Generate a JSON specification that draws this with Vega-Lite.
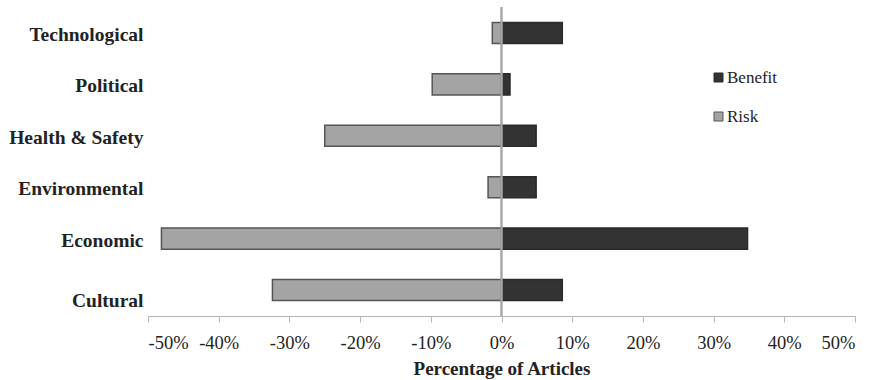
{
  "$schema": "https://vega.github.io/schema/vega-lite/v6.json",
  "width": 707,
  "height": 309,
  "autosize": {"type": "none"},
  "padding": {"left": 148, "top": 7, "right": 19, "bottom": 64},
  "background": "white",
  "data": {
    "values": [
      {"category": "Technological", "type": "Risk", "value": -0.013},
      {"category": "Technological", "type": "Benefit", "value": 0.086},
      {"category": "Political", "type": "Risk", "value": -0.098},
      {"category": "Political", "type": "Benefit", "value": 0.012},
      {"category": "Health & Safety", "type": "Risk", "value": -0.25},
      {"category": "Health & Safety", "type": "Benefit", "value": 0.049},
      {"category": "Environmental", "type": "Risk", "value": -0.019},
      {"category": "Environmental", "type": "Benefit", "value": 0.049},
      {"category": "Economic", "type": "Risk", "value": -0.481},
      {"category": "Economic", "type": "Benefit", "value": 0.348},
      {"category": "Cultural", "type": "Risk", "value": -0.324},
      {"category": "Cultural", "type": "Benefit", "value": 0.086}
    ]
  },
  "layer": [
    {
      "mark": {"type": "bar", "strokeWidth": 1.5},
      "encoding": {
        "y": {
          "field": "category",
          "type": "nominal",
          "sort": ["Technological", "Political", "Health & Safety", "Environmental", "Economic", "Cultural"],
          "scale": {"paddingInner": 0.59, "paddingOuter": 0.3},
          "axis": {
            "title": null,
            "domain": false,
            "ticks": false,
            "labelFont": "Liberation Serif",
            "labelFontSize": 19.5,
            "labelFontWeight": "bold",
            "labelColor": "#222222",
            "labelPadding": 5,
            "labelOffset": {"condition": {"test": "datum.value == 'Cultural'", "value": 11}, "value": 2}
          }
        },
        "x": {
          "field": "value",
          "type": "quantitative",
          "stack": null,
          "scale": {"domain": [-0.5, 0.5], "nice": false},
          "axis": {
            "title": "Percentage of Articles",
            "labelExpr": "round(datum.value * 100) + '%'",
            "values": [-0.5, -0.4, -0.3, -0.2, -0.1, 0, 0.1, 0.2, 0.3, 0.4, 0.5],
            "grid": false,
            "domainColor": "#b5b5b5",
            "tickColor": "#b5b5b5",
            "tickSize": 6,
            "labelFont": "Liberation Serif",
            "labelFontSize": 18.5,
            "labelColor": "#222222",
            "labelPadding": 11,
            "titleFont": "Liberation Serif",
            "titleFontSize": 19,
            "titleFontWeight": "bold",
            "titleColor": "#222222",
            "titlePadding": 8
          }
        },
        "color": {
          "field": "type",
          "type": "nominal",
          "scale": {"domain": ["Benefit", "Risk"], "range": ["#333333", "#a4a4a4"]},
          "legend": {
            "title": null,
            "orient": "none",
            "legendX": 562,
            "legendY": 62,
            "symbolType": "square",
            "symbolSize": 81,
            "symbolStrokeColor": "#444444",
            "symbolStrokeWidth": 1,
            "labelFont": "Liberation Serif",
            "labelFontSize": 17,
            "labelColor": "#222222",
            "labelOffset": 0,
            "rowPadding": 21
          }
        },
        "stroke": {
          "field": "type",
          "type": "nominal",
          "scale": {"domain": ["Benefit", "Risk"], "range": ["#2a2a2a", "#555555"]},
          "legend": null
        }
      }
    },
    {
      "mark": {"type": "rule", "color": "#a8a8a8", "strokeWidth": 1.2},
      "encoding": {"x": {"datum": 0}}
    }
  ],
  "config": {"view": {"stroke": null}}
}
